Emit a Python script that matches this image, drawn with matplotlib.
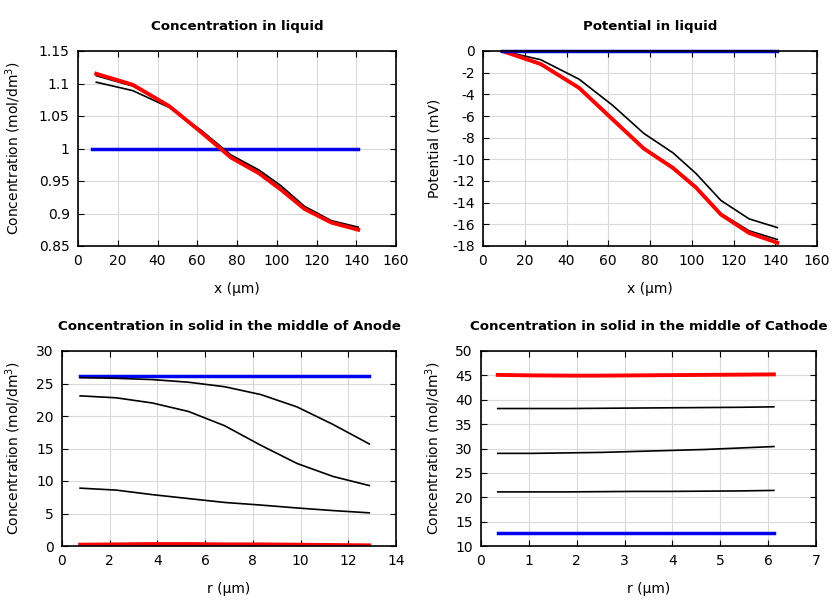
import numpy as np
import matplotlib
matplotlib.use("Agg")
import matplotlib.pyplot as plt

# liquid phase, along the cell thickness (um)
x_liq = [9.2, 27.6, 46.0, 62.0, 77.0, 91.0, 102.0, 114.0, 127.5, 141.0]
x_liq_init = [7.0, 141.0]
c_liq_init = [1.0, 1.0]
c_liq_mid = [1.102, 1.089, 1.063, 1.028, 0.990, 0.967, 0.943, 0.911, 0.889, 0.879]
c_liq_late = [1.112, 1.096, 1.065, 1.026, 0.988, 0.964, 0.939, 0.909, 0.887, 0.877]
c_liq_end = [1.115, 1.098, 1.065, 1.025, 0.986, 0.962, 0.937, 0.907, 0.886, 0.875]

x_phi_init = [9.2, 141.0]
phi_init = [0.0, 0.0]
phi_mid = [0.0, -0.8, -2.6, -5.0, -7.6, -9.4, -11.3, -13.8, -15.5, -16.3]
phi_late = [0.0, -1.15, -3.35, -6.2, -8.95, -10.7, -12.5, -15.0, -16.6, -17.4]
phi_end = [0.0, -1.2, -3.4, -6.3, -9.0, -10.8, -12.6, -15.1, -16.8, -17.7]

# solid phase, along particle radius (um)
r_an = [0.76, 2.27, 3.79, 5.30, 6.82, 8.33, 9.85, 11.36, 12.88]
cs_an_init = [26.1] * 9
cs_an_1 = [25.9, 25.8, 25.6, 25.2, 24.5, 23.3, 21.4, 18.7, 15.7]
cs_an_2 = [23.1, 22.8, 22.0, 20.7, 18.5, 15.5, 12.7, 10.7, 9.3]
cs_an_3 = [8.9, 8.6, 7.9, 7.3, 6.7, 6.3, 5.85, 5.45, 5.1]
cs_an_end = [0.2, 0.25, 0.3, 0.3, 0.25, 0.25, 0.2, 0.15, 0.1]

r_ca = [0.35, 1.07, 1.80, 2.52, 3.24, 3.96, 4.68, 5.40, 6.12]
cs_ca_init = [12.6] * 9
cs_ca_1 = [21.1, 21.1, 21.1, 21.15, 21.2, 21.2, 21.25, 21.3, 21.4]
cs_ca_2 = [29.0, 29.0, 29.1, 29.2, 29.4, 29.6, 29.8, 30.1, 30.4]
cs_ca_3 = [38.2, 38.2, 38.2, 38.25, 38.3, 38.35, 38.4, 38.45, 38.55]
cs_ca_end = [45.1, 45.0, 44.95, 44.95, 45.0, 45.05, 45.1, 45.15, 45.2]

plt.rcParams['font.family'] = 'DejaVu Sans'
plt.rcParams['font.size'] = 10

fig = plt.figure(figsize=(8.4, 6.0), dpi=100)
W, H = 840, 600


def make_ax(l, r, t, b):
    return fig.add_axes([l / W, 1 - b / H, (r - l) / W, (b - t) / H])


def style(ax, title, xlabel, ylabel, xlim, ylim, xstep, ystep, ylab_x):
    ax.set_xlim(*xlim)
    ax.set_ylim(*ylim)
    ax.set_xticks(np.arange(xlim[0], xlim[1] + xstep / 2, xstep))
    ax.set_yticks(np.arange(ylim[0], ylim[1] + ystep / 2, ystep))
    ax.xaxis.set_major_formatter(matplotlib.ticker.FormatStrFormatter('%g'))
    ax.yaxis.set_major_formatter(matplotlib.ticker.FuncFormatter(lambda v, p: '%g' % round(v, 6)))
    ax.grid(True, color='#d9d9d9', linewidth=0.8)
    ax.set_axisbelow(True)
    ax.tick_params(direction='in', length=4, top=True, right=True, labelsize=10, pad=6)
    for s in ax.spines.values():
        s.set_linewidth(1.2)
    ax.set_title(title, fontweight='bold', fontsize=9.6, pad=15)
    ax.set_xlabel(xlabel, labelpad=10)
    ax.set_ylabel(ylabel)
    ax.yaxis.set_label_coords(ylab_x, 0.5)


conc_label = 'Concentration (mol/dm$^3$)'

ax1 = make_ax(78, 396, 51, 246)
ax1.plot(x_liq_init, c_liq_init, color='#0000ee', lw=2.5)
ax1.plot(x_liq, c_liq_mid, color='black', lw=1.2)
ax1.plot(x_liq, c_liq_late, color='black', lw=1.2)
ax1.plot(x_liq, c_liq_end, color='#ff0000', lw=2.8)
style(ax1, 'Concentration in liquid', 'x (µm)', conc_label, (0, 160), (0.85, 1.15), 20, 0.05, -0.173)

ax2 = make_ax(483, 817, 51, 246)
ax2.plot(x_liq, phi_mid, color='black', lw=1.2)
ax2.plot(x_liq, phi_late, color='black', lw=1.2)
ax2.plot(x_liq, phi_end, color='#ff0000', lw=2.8)
ax2.plot(x_phi_init, phi_init, color='#0000cc', lw=2.5, clip_on=False)
style(ax2, 'Potential in liquid', 'x (µm)', 'Potential (mV)', (0, 160), (-18, 0), 20, 2, -0.123)

ax3 = make_ax(62, 396, 351, 546)
ax3.plot(r_an, cs_an_init, color='#0000ee', lw=2.5)
ax3.plot(r_an, cs_an_1, color='black', lw=1.2)
ax3.plot(r_an, cs_an_2, color='black', lw=1.2)
ax3.plot(r_an, cs_an_3, color='black', lw=1.2)
ax3.plot(r_an, cs_an_end, color='#ff0000', lw=2.8)
style(ax3, 'Concentration in solid in the middle of Anode', 'r (µm)', conc_label, (0, 14), (0, 30), 2, 5, -0.117)

ax4 = make_ax(481, 816, 351, 546)
ax4.plot(r_ca, cs_ca_init, color='#0000ee', lw=2.5)
ax4.plot(r_ca, cs_ca_1, color='black', lw=1.2)
ax4.plot(r_ca, cs_ca_2, color='black', lw=1.2)
ax4.plot(r_ca, cs_ca_3, color='black', lw=1.2)
ax4.plot(r_ca, cs_ca_end, color='#ff0000', lw=2.8)
style(ax4, 'Concentration in solid in the middle of Cathode', 'r (µm)', conc_label, (0, 7), (10, 50), 1, 5, -0.113)

fig.savefig('out.png', dpi=100)
